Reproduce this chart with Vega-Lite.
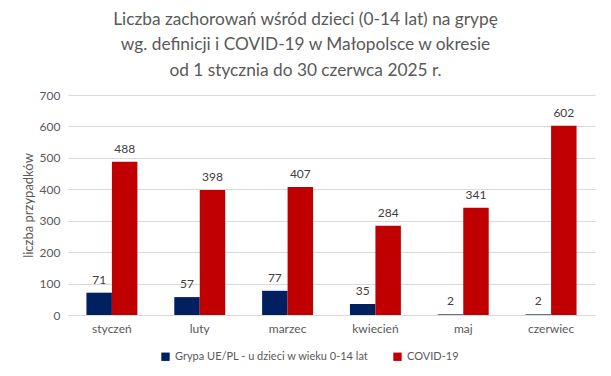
{
  "$schema": "https://vega.github.io/schema/vega-lite/v6.json",
  "width": 527,
  "height": 220,
  "autosize": {"type": "none"},
  "padding": {"left": 68, "top": 95, "right": 16, "bottom": 61},
  "background": "white",
  "config": {
    "font": "Lato",
    "view": {"stroke": null}
  },
  "title": {
    "text": ["Liczba zachorowań wśród dzieci (0-14 lat) na grypę", "wg. definicji i  COVID-19 w Małopolsce w okresie", "od 1 stycznia do 30 czerwca 2025 r."],
    "font": "Lato",
    "fontSize": 17.3,
    "fontWeight": "normal",
    "color": "#595959",
    "lineHeight": 25.5,
    "anchor": "middle",
    "dx": -26,
    "offset": 10
  },
  "data": {
    "values": [
      {"miesiac": "styczeń", "seria": "Grypa UE/PL - u dzieci  w wieku 0-14 lat", "liczba": 71},
      {"miesiac": "styczeń", "seria": "COVID-19", "liczba": 488},
      {"miesiac": "luty", "seria": "Grypa UE/PL - u dzieci  w wieku 0-14 lat", "liczba": 57},
      {"miesiac": "luty", "seria": "COVID-19", "liczba": 398},
      {"miesiac": "marzec", "seria": "Grypa UE/PL - u dzieci  w wieku 0-14 lat", "liczba": 77},
      {"miesiac": "marzec", "seria": "COVID-19", "liczba": 407},
      {"miesiac": "kwiecień", "seria": "Grypa UE/PL - u dzieci  w wieku 0-14 lat", "liczba": 35},
      {"miesiac": "kwiecień", "seria": "COVID-19", "liczba": 284},
      {"miesiac": "maj", "seria": "Grypa UE/PL - u dzieci  w wieku 0-14 lat", "liczba": 2},
      {"miesiac": "maj", "seria": "COVID-19", "liczba": 341},
      {"miesiac": "czerwiec", "seria": "Grypa UE/PL - u dzieci  w wieku 0-14 lat", "liczba": 2},
      {"miesiac": "czerwiec", "seria": "COVID-19", "liczba": 602}
    ]
  },
  "encoding": {
    "x": {
      "field": "miesiac",
      "type": "nominal",
      "sort": ["styczeń", "luty", "marzec", "kwiecień", "maj", "czerwiec"],
      "scale": {"paddingInner": 0.42, "paddingOuter": 0.21},
      "axis": {
        "title": null,
        "labelAngle": 0,
        "labelFont": "Lato",
        "labelFontSize": 12,
        "labelColor": "#595959",
        "labelPadding": 8,
        "ticks": false,
        "domainColor": "#d9d9d9",
        "grid": false
      }
    },
    "xOffset": {
      "field": "seria",
      "type": "nominal",
      "sort": ["Grypa UE/PL - u dzieci  w wieku 0-14 lat", "COVID-19"],
      "scale": {"paddingInner": 0, "paddingOuter": 0}
    },
    "y": {
      "field": "liczba",
      "type": "quantitative",
      "scale": {"domain": [0, 700]},
      "axis": {
        "title": "liczba przypadków",
        "titleFont": "Lato",
        "titleFontSize": 13,
        "titleFontWeight": "normal",
        "titleColor": "#595959",
        "titlePadding": 4,
        "values": [0, 100, 200, 300, 400, 500, 600, 700],
        "labelFont": "Lato",
        "labelFontSize": 12,
        "labelColor": "#595959",
        "labelPadding": 8,
        "ticks": false,
        "domain": false,
        "gridColor": "#d9d9d9"
      }
    }
  },
  "layer": [
    {
      "mark": {"type": "bar"},
      "encoding": {
        "color": {
          "field": "seria",
          "type": "nominal",
          "sort": ["Grypa UE/PL - u dzieci  w wieku 0-14 lat", "COVID-19"],
          "scale": {"domain": ["Grypa UE/PL - u dzieci  w wieku 0-14 lat", "COVID-19"], "range": ["#002060", "#C00000"]},
          "legend": {
            "title": null,
            "orient": "none",
            "direction": "horizontal",
            "legendX": 92,
            "legendY": 256,
            "symbolType": "square",
            "symbolSize": 70,
            "labelFont": "Lato",
            "labelFontSize": 11,
            "labelColor": "#595959",
            "columnPadding": 20,
            "labelLimit": 300
          }
        }
      }
    },
    {
      "mark": {"type": "text", "dy": -13, "font": "Lato", "fontSize": 12, "color": "#404040"},
      "encoding": {
        "text": {"field": "liczba", "type": "quantitative"}
      }
    }
  ]
}
